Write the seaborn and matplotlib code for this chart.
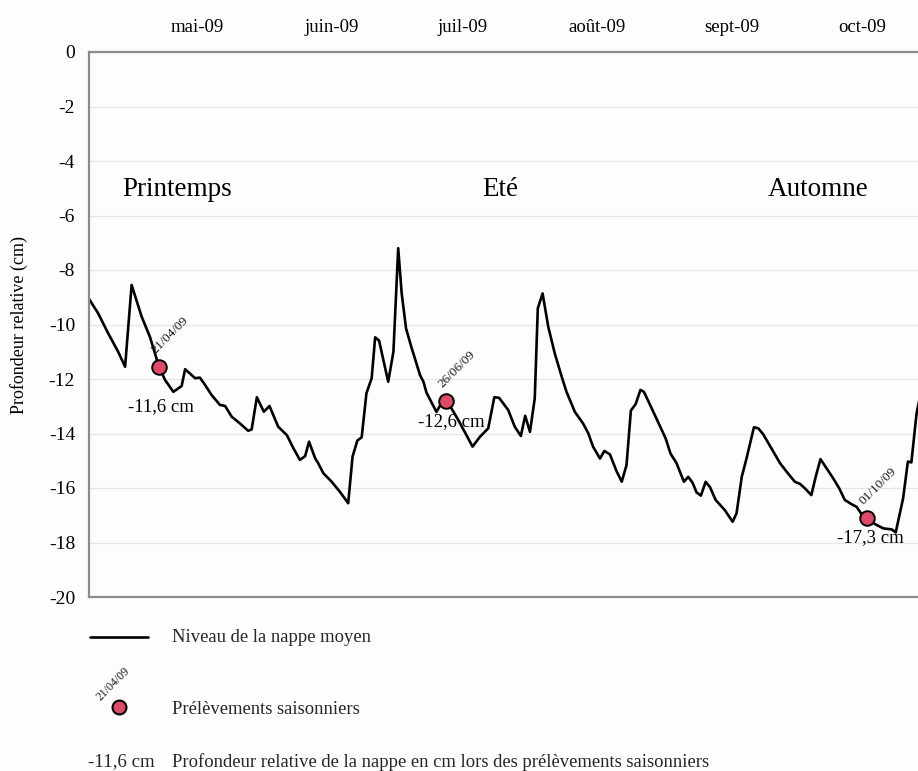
import numpy as np
import pandas as pd
import matplotlib
matplotlib.use("Agg")
import matplotlib.pyplot as plt
from matplotlib.lines import Line2D
from matplotlib.transforms import ScaledTranslation
import seaborn as sns

# ---------------- data ----------------
start_date = pd.Timestamp("2009-04-05")
end_date = pd.Timestamp("2009-10-12 15:00")

day_offsets = [
    0.0, 2.1, 4.4, 6.7, 8.3, 9.8, 12.1, 14.0, 16.1, 17.5, 19.4, 21.3, 22.1, 24.4,
    25.5, 26.7, 28.2, 30.1, 31.3, 32.8, 34.7, 36.6, 37.4, 38.6, 40.2, 41.5, 43.5,
    45.5, 47.0, 48.5, 49.7, 50.6, 52.0, 52.7, 53.9, 55.8, 57.7, 59.6, 60.6, 61.7,
    62.7, 63.8, 65.0, 65.8, 66.7, 68.8, 70.0, 71.1, 71.9, 72.9, 74.2, 74.7, 76.1,
    76.9, 77.6, 79.9, 81.8, 84.9, 88.2, 89.9, 91.8, 93.2, 94.3, 96.4, 97.9, 99.3,
    100.3, 101.4, 102.5, 103.2, 104.3, 105.6, 107.1, 108.7, 109.8, 111.7, 113.6,
    114.8, 115.9, 117.5, 118.5, 119.8, 121.3, 122.5, 123.6, 124.6, 125.7, 126.8,
    127.6, 129.4, 131.7, 132.6, 133.7, 135.1, 136.8, 137.8, 138.8, 139.7, 140.7,
    141.8, 142.8, 144.1, 146.2, 148.0, 148.9, 150.1, 151.2, 152.9, 153.9, 155.0,
    156.9, 158.9, 160.4, 162.3, 163.5, 164.6, 166.1, 167.1, 168.2, 169.6, 171.1,
    172.5, 173.8, 175.3, 176.5, 177.6, 178.9, 180.7, 182.6, 184.6, 185.5, 187.2,
    188.3, 189.1, 190.3, 191.3,
]
levels = [
    -9.06, -9.59, -10.32, -11.00, -11.55, -8.55, -9.71, -10.45, -11.55, -12.04,
    -12.47, -12.26, -11.64, -11.97, -11.95, -12.22, -12.59, -12.95, -12.99, -13.38,
    -13.63, -13.90, -13.85, -12.67, -13.20, -12.99, -13.75, -14.06, -14.54, -14.97,
    -14.83, -14.30, -14.91, -15.09, -15.46, -15.77, -16.14, -16.56, -14.85, -14.26,
    -14.14, -12.52, -11.97, -10.47, -10.59, -12.10, -11.00, -7.20, -8.86, -10.14,
    -10.87, -11.12, -11.85, -12.10, -12.50, -13.21, -12.66, -13.50, -14.48, -14.12,
    -13.81, -12.67, -12.69, -13.14, -13.75, -14.09, -13.35, -13.94, -12.71, -9.41,
    -8.86, -10.08, -11.06, -11.92, -12.47, -13.20, -13.63, -13.99, -14.48, -14.92,
    -14.64, -14.77, -15.38, -15.77, -15.16, -13.16, -12.92, -12.40, -12.47, -13.08,
    -13.87, -14.18, -14.73, -15.09, -15.77, -15.59, -15.81, -16.16, -16.28, -15.77,
    -15.97, -16.44, -16.81, -17.24, -16.93, -15.59, -14.91, -13.77, -13.81, -14.02,
    -14.54, -15.09, -15.40, -15.77, -15.85, -16.01, -16.26, -15.59, -14.94, -15.28,
    -15.64, -16.01, -16.44, -16.59, -16.69, -16.95, -17.09, -17.32, -17.48, -17.52,
    -17.63, -16.38, -15.03, -15.06, -13.26, -12.48,
]

sample_dates = ["2009-04-21", "2009-06-26", "2009-10-01"]
sample_levels = [-11.55, -12.8, -17.1]
sample_value_labels = ["-11,6 cm", "-12,6 cm", "-17,3 cm"]
sample_date_labels = ["21/04/09", "26/06/09", "01/10/09"]

month_ticks = ["2009-05-01", "2009-06-01", "2009-07-01", "2009-08-01",
               "2009-09-01", "2009-10-01"]
month_labels = ["mai-09", "juin-09", "juil-09", "août-09", "sept-09", "oct-09"]
y_ticks = [0, -2, -4, -6, -8, -10, -12, -14, -16, -18, -20]

seasons = ["Printemps", "Eté", "Automne"]
season_dates = ["2009-04-25 05:00", "2009-07-08 12:00", "2009-09-19 14:00"]
season_level = -5.06

legend_labels = ["Niveau de la nappe moyen", "Prélèvements saisonniers",
                 "Profondeur relative de la nappe en cm lors des prélèvements saisonniers"]

# ---------------- tables ----------------
df = pd.DataFrame({
    "date": start_date + pd.to_timedelta(day_offsets, unit="D"),
    "niveau": levels,
})
samples = pd.DataFrame({
    "date": pd.to_datetime(sample_dates),
    "niveau": sample_levels,
})

# ---------------- style ----------------
sns.set_theme(style="white")
serif = ["Liberation Serif", "DejaVu Serif"]
plt.rcParams["font.family"] = serif
BG = "#fdfdfd"
SPINE = "#8c8c8c"
PINK = "#de4a68"

fig = plt.figure(figsize=(9.18, 7.71), dpi=100, facecolor=BG)
ax = fig.add_axes([89 / 918, 1 - 597 / 771, 1 - 89 / 918, (597 - 52) / 771])
ax.set_facecolor(BG)

sns.lineplot(data=df, x="date", y="niveau", ax=ax, color="black", lw=1.9,
             estimator=None, sort=False, legend=False)
sns.scatterplot(data=samples, x="date", y="niveau", ax=ax, s=110, color=PINK,
                edgecolor="black", linewidth=1.4, zorder=5, legend=False)

ax.set_xlim(start_date, end_date)
ax.set_ylim(-20, 0)
ax.set_yticks(y_ticks)
ax.set_yticklabels([str(v) for v in y_ticks])
ax.set_xticks(pd.to_datetime(month_ticks))
ax.set_xticklabels(month_labels)
ax.xaxis.tick_top()
ax.tick_params(axis="x", length=0, pad=11.5, labelsize=13.5, colors="black")
ax.tick_params(axis="y", length=0, pad=10, labelsize=14, colors="black")
shift = ScaledTranslation(-0.05, 0, fig.dpi_scale_trans)
for lab in ax.get_xticklabels():
    lab.set_transform(lab.get_transform() + shift)
ax.set_xlabel("")
ax.set_ylabel("Profondeur relative (cm)", fontsize=13, color="black")
ax.yaxis.set_label_coords(-0.074, 0.5)

ax.yaxis.grid(True, color="#e6e6e6", lw=0.9)
ax.xaxis.grid(False)
for side in ["top", "left", "bottom"]:
    ax.spines[side].set_visible(True)
    ax.spines[side].set_color(SPINE)
    ax.spines[side].set_linewidth(1.6)
ax.spines["right"].set_visible(False)

# season labels
for name, d in zip(seasons, season_dates):
    ax.text(pd.Timestamp(d), season_level, name, fontsize=19.5, ha="center",
            va="center", color="black")

# sample annotations
value_offsets = [(2, -29), (4, -15), (2, -14)]
for d, v, vl, dl, off in zip(samples["date"], sample_levels, sample_value_labels,
                             sample_date_labels, value_offsets):
    ax.annotate(vl, (d, v), xytext=off, textcoords="offset points", ha="center",
                va="center", fontsize=13.5, color="black")
    ax.annotate(dl, (d, v), xytext=(-1, 8), textcoords="offset points", ha="left",
                va="bottom", rotation=45, rotation_mode="anchor", fontsize=9.5,
                color="#1a1a1a")

# legend (drawn below the plot)
fig.add_artist(Line2D([90 / 918, 148 / 918], [1 - 637 / 771, 1 - 637 / 771],
                      transform=fig.transFigure, color="black", lw=1.9))
fig.text(172 / 918, 1 - 638 / 771, legend_labels[0], fontsize=13.4, va="center",
         ha="left")
fig.add_artist(Line2D([119 / 918], [1 - 707 / 771], transform=fig.transFigure,
                      marker="o", markersize=10, markerfacecolor=PINK,
                      markeredgecolor="black", markeredgewidth=1.5, lw=0))
fig.text(172 / 918, 1 - 709 / 771, legend_labels[1], fontsize=13.4, va="center",
         ha="left")
ax.annotate(sample_date_labels[0], (119 / 918, 1 - 707 / 771),
            xycoords="figure fraction", xytext=(-12, 3), textcoords="offset points",
            ha="left", va="bottom", rotation=45, rotation_mode="anchor",
            fontsize=8.5, color="#1a1a1a", annotation_clip=False)
fig.text(88 / 918, 1 - 762 / 771, sample_value_labels[0], fontsize=13.6,
         va="center", ha="left")
fig.text(172 / 918, 1 - 762 / 771, legend_labels[2], fontsize=13.4, va="center",
         ha="left")

fig.savefig("out.png", dpi=100, facecolor=BG)
